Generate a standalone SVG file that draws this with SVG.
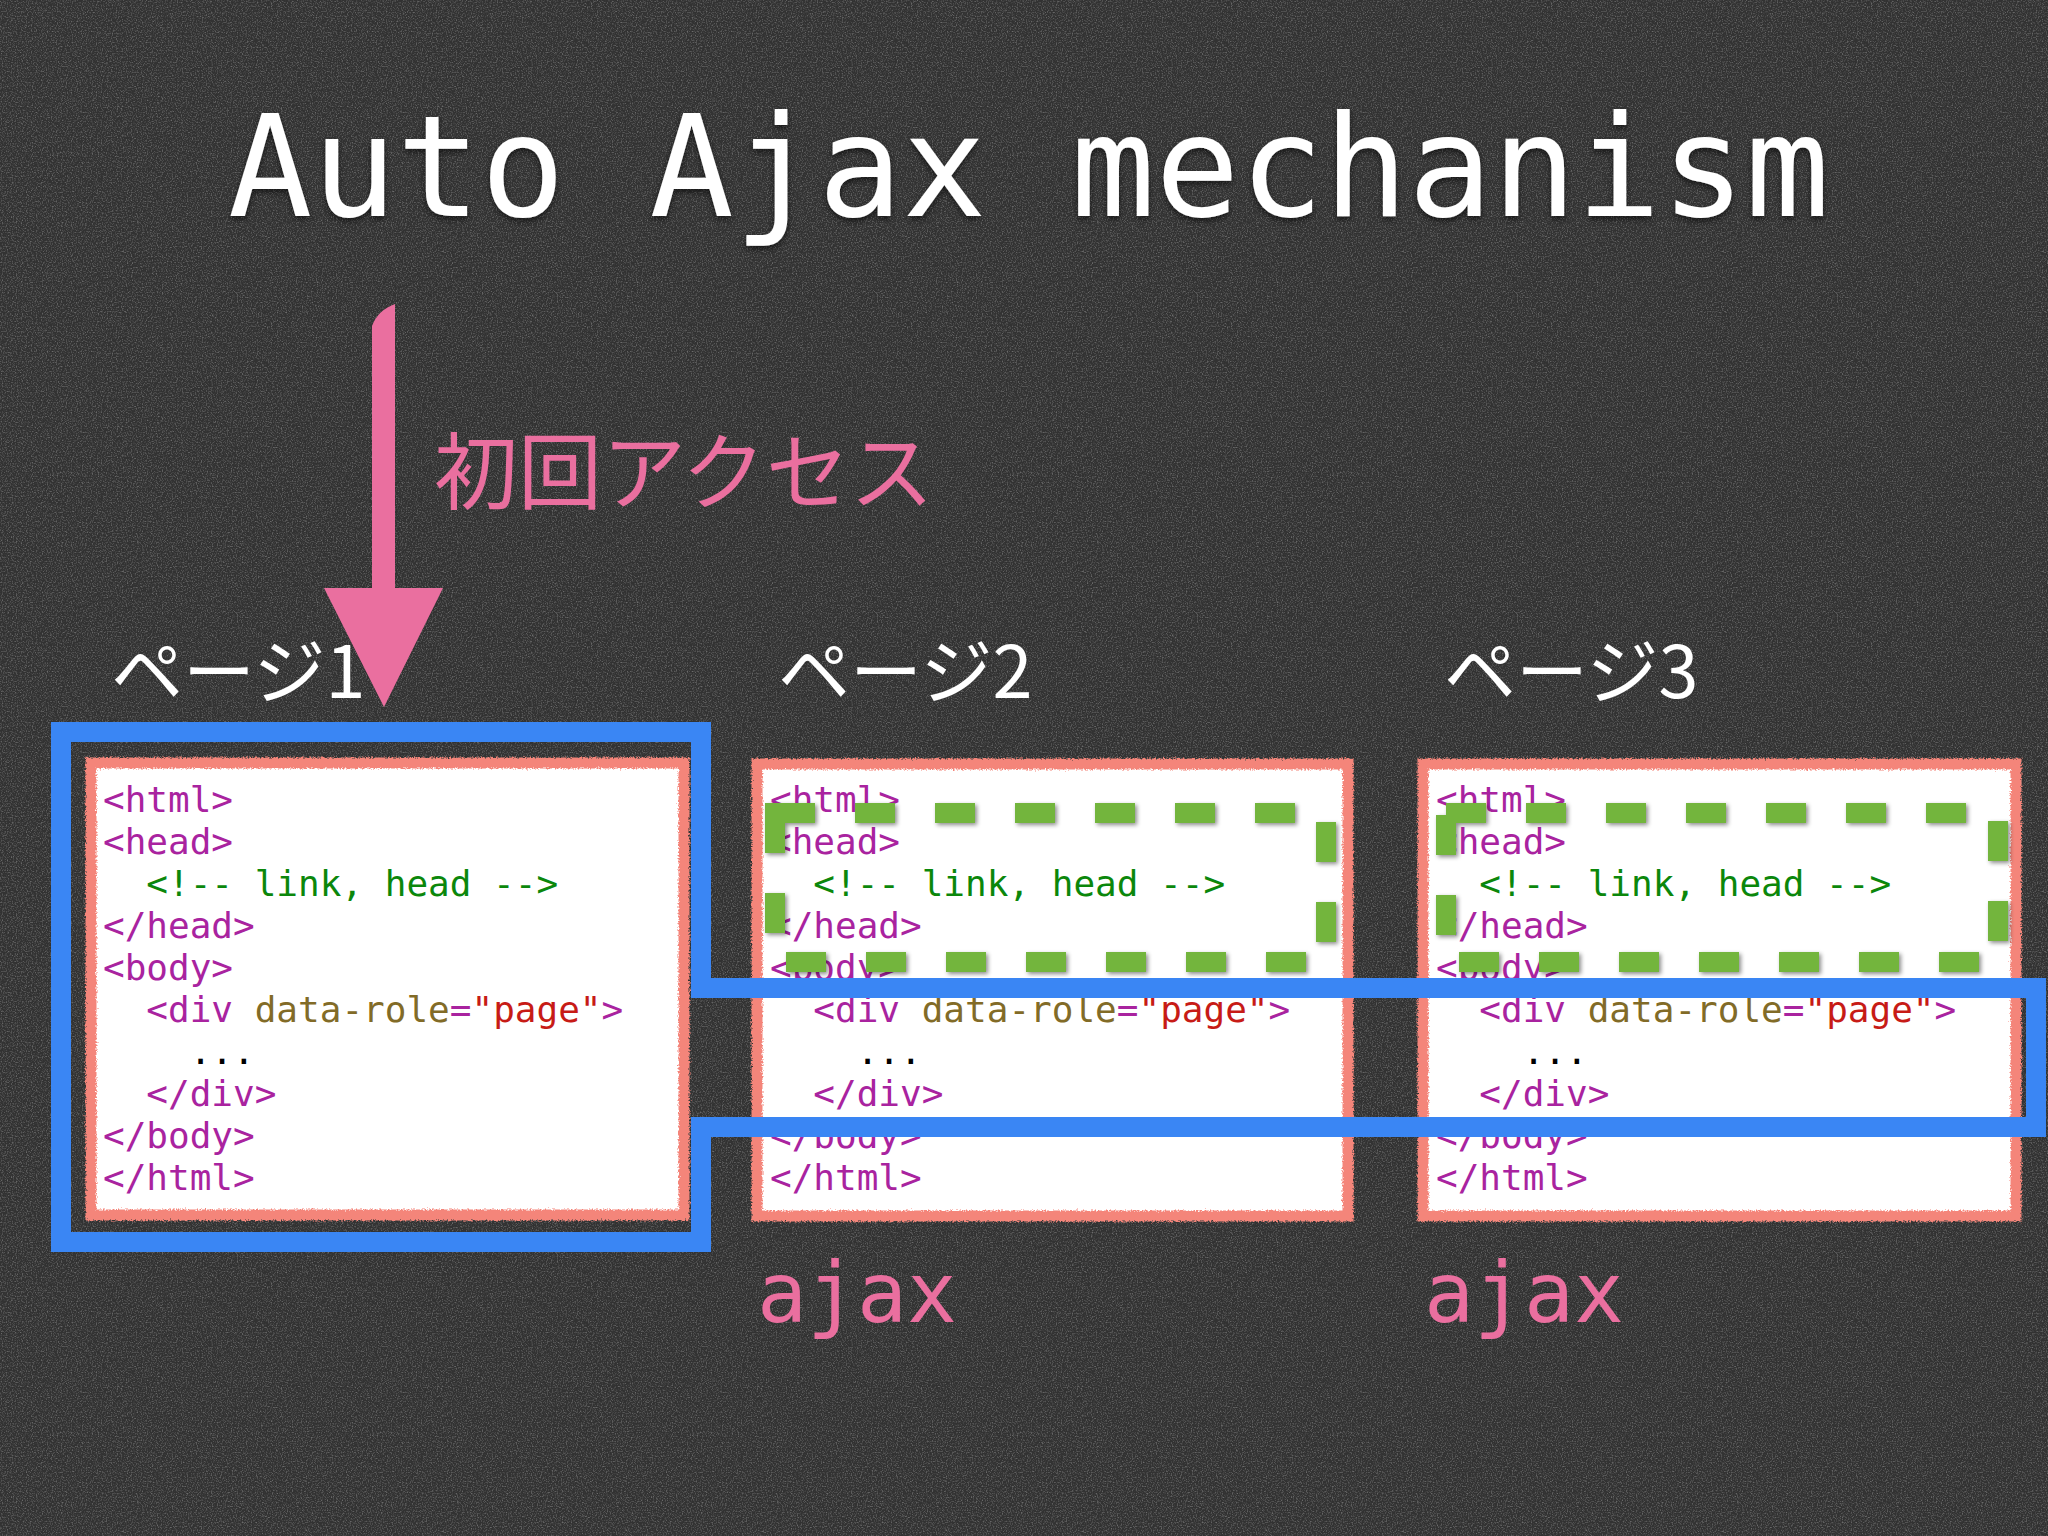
<svg xmlns="http://www.w3.org/2000/svg" width="2048" height="1536" viewBox="0 0 2048 1536">
  <defs>
    <style>
      .mono { font-family: "DejaVu Sans Mono", "Liberation Mono", monospace; }
      .jp { font-family: "Noto Sans CJK JP", "Noto Sans", sans-serif; }
      .title { font-size: 140px; fill: #ffffff; }
      .label { font-size: 72px; fill: #ffffff; }
      .pink { fill: #EA6F9F; }
      .c { font-family: "DejaVu Sans Mono", "Liberation Mono", monospace; font-size: 36px; }
      .t { fill: #A9239F; }
      .g { fill: #0B870B; }
      .a { fill: #826B27; }
      .s { fill: #C71B16; }
      .k { fill: #000000; }
      .paper { fill: #ffffff; }
      .edge { fill: none; stroke: #F4857A; stroke-width: 11; }
      .dash { fill: none; stroke: #73B53E; stroke-width: 20; stroke-dasharray: 40 40; }
      .frame { fill: none; stroke: #3A86F4; stroke-width: 20; stroke-linejoin: miter; }
    </style>
    <filter id="grain" x="0" y="0" width="100%" height="100%">
      <feTurbulence type="fractalNoise" baseFrequency="0.8" numOctaves="2" seed="3" result="n"/>
      <feColorMatrix in="n" type="matrix" values="0 0 0 0 1  0 0 0 0 1  0 0 0 0 1  2.6 0 0 0 -1.2"/>
    </filter>
    <filter id="rough" x="-5%" y="-5%" width="110%" height="110%">
      <feTurbulence type="fractalNoise" baseFrequency="0.6" numOctaves="2" seed="7" result="t"/>
      <feDisplacementMap in="SourceGraphic" in2="t" scale="5" xChannelSelector="R" yChannelSelector="G"/>
    </filter>
    <filter id="shadow" x="-5%" y="-10%" width="110%" height="120%">
      <feDropShadow dx="2" dy="2" stdDeviation="2" flood-color="#000" flood-opacity="0.45"/>
    </filter>
    <filter id="tshadow" x="-5%" y="-20%" width="110%" height="140%">
      <feDropShadow dx="0" dy="3" stdDeviation="3" flood-color="#000" flood-opacity="0.6"/>
    </filter>
  </defs>

  <g id="background">
    <rect x="0" y="0" width="2048" height="1536" fill="#323232"/>
    <rect x="0" y="0" width="2048" height="1536" filter="url(#grain)" opacity="0.28"/>
  </g>

  <g id="title">
    <text class="mono title" x="228" y="216" filter="url(#tshadow)">Auto Ajax mechanism</text>
  </g>

  <g id="page-labels">
    <text class="jp label" x="111" y="698">ページ1</text>
    <text class="jp label" x="778" y="698">ページ2</text>
    <text class="jp label" x="1444" y="698">ページ3</text>
  </g>

  <g id="page1">
    <rect class="paper" x="91" y="763" width="593" height="452"/>
    <rect class="edge" x="91" y="763" width="593" height="452" filter="url(#rough)"/>
    <text class="c t" x="103" y="812">&lt;html&gt;</text>
    <text class="c t" x="103" y="854">&lt;head&gt;</text>
    <text class="c g" x="146.3" y="896">&lt;!-- link, head --&gt;</text>
    <text class="c t" x="103" y="938">&lt;/head&gt;</text>
    <text class="c t" x="103" y="980">&lt;body&gt;</text>
    <text class="c" x="146.3" y="1022"><tspan class="t">&lt;div</tspan> <tspan class="a">data-role</tspan><tspan class="t">=</tspan><tspan class="s">"page"</tspan><tspan class="t">&gt;</tspan></text>
    <text class="c k" x="189.7" y="1064">...</text>
    <text class="c t" x="146.3" y="1106">&lt;/div&gt;</text>
    <text class="c t" x="103" y="1148">&lt;/body&gt;</text>
    <text class="c t" x="103" y="1190">&lt;/html&gt;</text>
  </g>

  <g id="page2">
    <rect class="paper" x="757" y="764" width="591" height="452"/>
    <rect class="edge" x="757" y="764" width="591" height="452" filter="url(#rough)"/>
    <text class="c t" x="770" y="812">&lt;html&gt;</text>
    <text class="c t" x="770" y="854">&lt;head&gt;</text>
    <text class="c g" x="813.3" y="896">&lt;!-- link, head --&gt;</text>
    <text class="c t" x="770" y="938">&lt;/head&gt;</text>
    <text class="c t" x="770" y="980">&lt;body&gt;</text>
    <text class="c" x="813.3" y="1022"><tspan class="t">&lt;div</tspan> <tspan class="a">data-role</tspan><tspan class="t">=</tspan><tspan class="s">"page"</tspan><tspan class="t">&gt;</tspan></text>
    <text class="c k" x="856.7" y="1064">...</text>
    <text class="c t" x="813.3" y="1106">&lt;/div&gt;</text>
    <text class="c t" x="770" y="1148">&lt;/body&gt;</text>
    <text class="c t" x="770" y="1190">&lt;/html&gt;</text>
  </g>

  <g id="page3">
    <rect class="paper" x="1423" y="764" width="593" height="452"/>
    <rect class="edge" x="1423" y="764" width="593" height="452" filter="url(#rough)"/>
    <text class="c t" x="1436" y="812">&lt;html&gt;</text>
    <text class="c t" x="1436" y="854">&lt;head&gt;</text>
    <text class="c g" x="1479.3" y="896">&lt;!-- link, head --&gt;</text>
    <text class="c t" x="1436" y="938">&lt;/head&gt;</text>
    <text class="c t" x="1436" y="980">&lt;body&gt;</text>
    <text class="c" x="1479.3" y="1022"><tspan class="t">&lt;div</tspan> <tspan class="a">data-role</tspan><tspan class="t">=</tspan><tspan class="s">"page"</tspan><tspan class="t">&gt;</tspan></text>
    <text class="c k" x="1522.7" y="1064">...</text>
    <text class="c t" x="1479.3" y="1106">&lt;/div&gt;</text>
    <text class="c t" x="1436" y="1148">&lt;/body&gt;</text>
    <text class="c t" x="1436" y="1190">&lt;/html&gt;</text>
  </g>

  <g id="head-highlights" filter="url(#shadow)">
    <rect class="dash" x="775" y="813" width="551" height="149"/>
    <rect class="dash" x="1446" y="813" width="552" height="149"/>
  </g>

  <g id="page-frame">
    <path class="frame" d="M61,732 H701 V988 H2036 V1127 H701 V1242 H61 Z"/>
  </g>

  <g id="connectors">
    <path class="pink" d="M372,326 Q378,310 395,304 L395,588 L443,588 L384,707 L324,588 L372,588 Z"/>
    <text class="jp pink" x="434" y="503" font-size="84">初回アクセス</text>
  </g>

  <g id="ajax-labels">
    <text class="mono pink" x="757" y="1322" font-size="83">ajax</text>
    <text class="mono pink" x="1424" y="1322" font-size="83">ajax</text>
  </g>
</svg>
